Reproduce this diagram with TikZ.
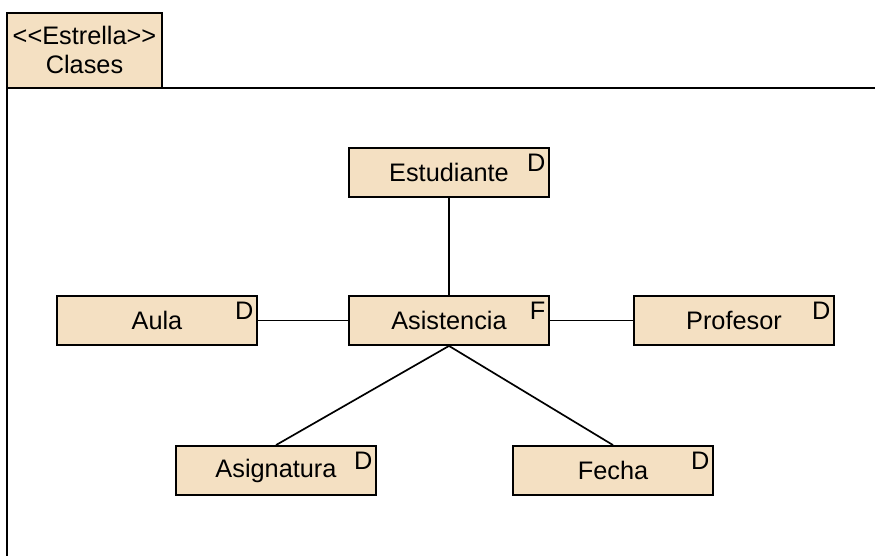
\documentclass[tikz,border=0pt]{standalone}
\usepackage{fontspec}
\setmainfont{Liberation Sans}
\definecolor{beige}{RGB}{244,224,194}
\tikzset{
  tabla/.style={draw, line width=1.3pt, fill=beige, minimum width=5cm, minimum height=1.225cm, font=\fontsize{18}{20}\selectfont, inner sep=0pt},
  tipo/.style={anchor=north east, inner sep=3pt, yshift=-2pt, font=\fontsize{18}{20}\selectfont},
  enlace/.style={line width=1.2pt}
}
\begin{document}
\begin{tikzpicture}[x=0.025cm,y=-0.025cm]
  \useasboundingbox (0,0) rectangle (875,556);
  % paquete
  \draw[line width=1.3pt, fill=beige] (7,13) rectangle (162,88);
  \node[align=center, font=\fontsize{18}{21}\selectfont] (paq) at (84.5,50) {{<}{<}Estrella{>}{>}\\Clases};
  \draw[line width=1.3pt] (7,556) -- (7,88) -- (875,88);

  \node[tabla] (est) at (449,172.5) {Estudiante};
  \node[tabla] (asi) at (449,320.5) {Asistencia};
  \node[tabla] (aula) at (157,320.5) {Aula};
  \node[tabla] (prof) at (734,320.5) {Profesor};
  \node[tabla] (asig) at (276,470.5) {Asignatura};
  \node[tabla] (fec) at (613,470.5) {Fecha};

  \node[tipo] (tEst) at (est.north east) {D};
  \node[tipo] (tAsi) at (asi.north east) {F};
  \node[tipo] (tAula) at (aula.north east) {D};
  \node[tipo] (tProf) at (prof.north east) {D};
  \node[tipo] (tAsig) at (asig.north east) {D};
  \node[tipo] (tFec) at (fec.north east) {D};

  \draw[enlace] (est) -- (asi);
  \draw[enlace] (aula) -- (asi);
  \draw[enlace] (asi) -- (prof);
  \draw[enlace] (asi.south) -- (asig.north);
  \draw[enlace] (asi.south) -- (fec.north);
\end{tikzpicture}
\end{document}
